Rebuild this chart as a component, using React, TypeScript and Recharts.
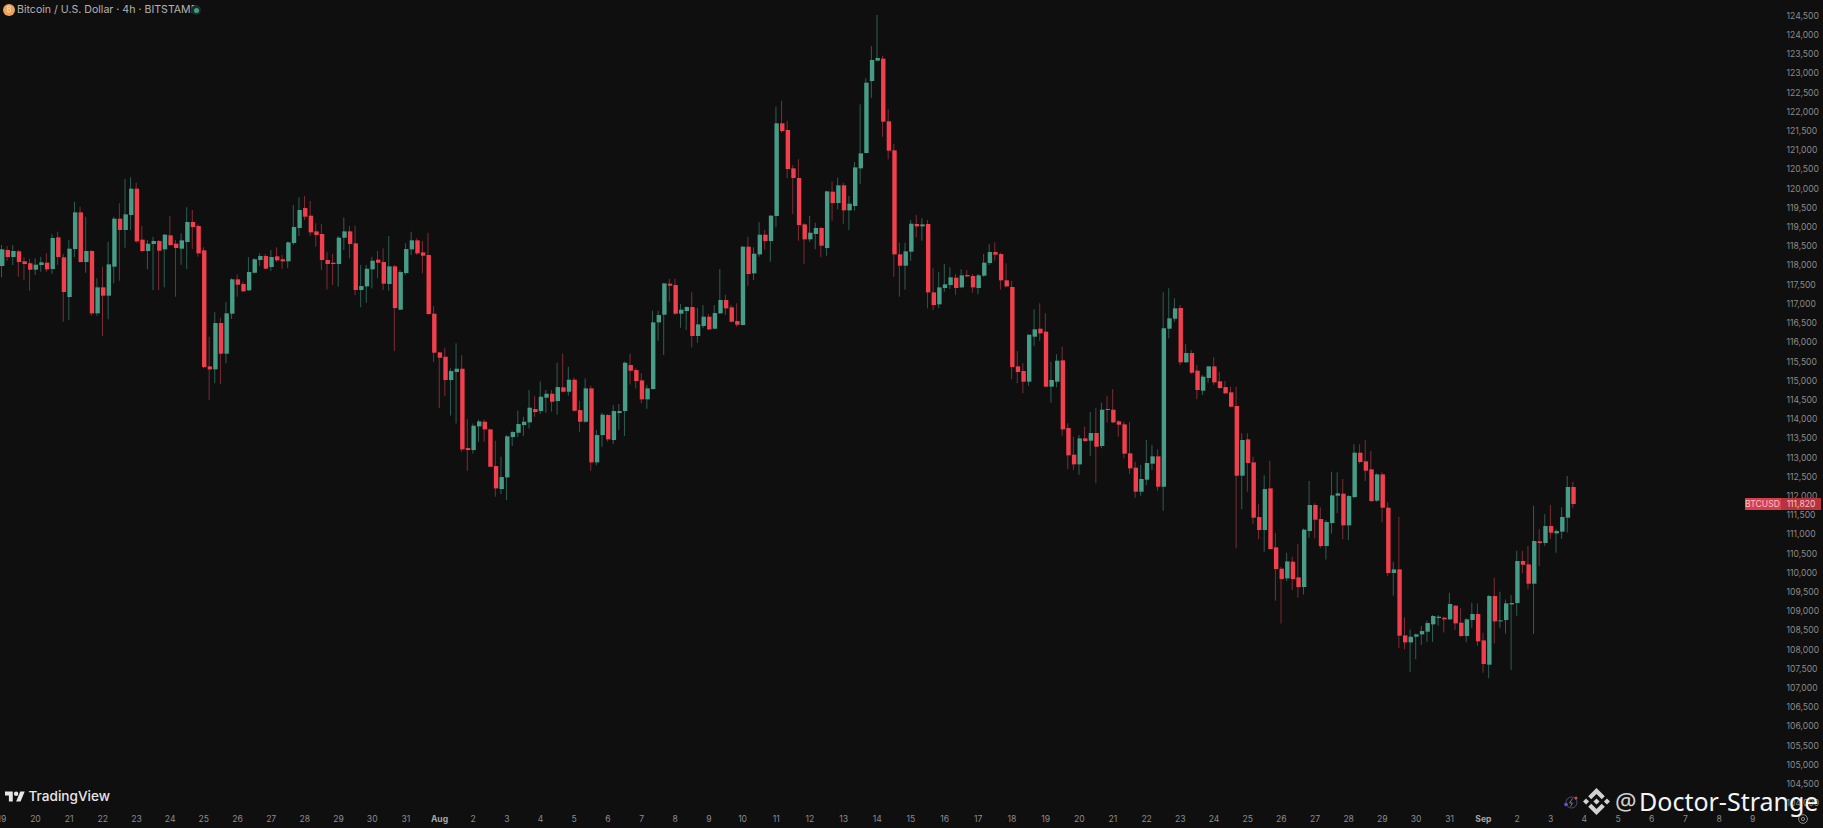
import React from "react";
import { ComposedChart, Bar, XAxis, YAxis, Cell } from "recharts";

// BTC/USD 4h candles
const opens = [
  117984,118401,118218,118366,118106,118053,117889,118010,118071,117906,
  118730,118210,117177,118427,119381,118088,118375,116752,117429,117212,
  117967,119216,118921,119312,119997,118670,118375,118557,118635,118418,
  118782,118565,118435,118609,119129,119025,118392,115372,115294,116500,
  115702,116743,117637,117515,117351,117811,118140,118244,117958,118236,
  118158,118106,118583,118973,119493,119294,118886,118817,118140,118070,
  118036,118721,118886,118574,117359,117454,117897,118149,118088,117515,
  117975,116847,117801,118417,118652,118339,118270,116743,115736,115623,
  115016,115224,115311,113246,113194,113810,113931,113732,112777,112179,
  112482,113532,113645,113845,113914,114261,114209,114556,114660,114469,
  114825,114712,115025,114235,113931,114799,112873,113584,114105,113454,
  114157,114209,115407,115276,115007,114513,114782,116517,116717,117524,
  117489,116743,116812,116916,116162,116422,116665,116352,116752,117099,
  116908,116552,116448,118487,117793,118287,118799,118635,119285,121698,
  121524,120526,120274,119068,118678,118817,118973,118452,119919,119624,
  120084,119433,119546,120526,120925,122800,123329,123381,121750,120995,
  118288,117992,118357,119077,119016,119077,117298,116986,117411,117489,
  117680,117428,117749,117723,117411,117732,118062,118348,118296,117611,
  117438,115372,115251,114973,116145,116353,116275,114843,114973,115529,
  113767,113073,112821,113498,113437,113637,113299,114262,114244,113941,
  113863,113108,112735,112110,112422,112839,113030,112240,116353,116613,
  116891,115477,115719,115260,114739,115069,115372,114982,114834,114696,
  114340,112526,113472,112873,111450,111112,112197,110661,110105,109854,
  110288,109880,109628,111086,111763,111398,110696,111294,112006,112058,
  111234,111971,113125,112900,112691,111876,112561,111693,109993,110088,
  108370,108188,108335,108396,108466,108657,108821,108830,108787,109143,
  108700,108353,108769,108926,108240,107607,109394,108735,108769,109177,
  109212,110305,110218,109715,110817,110774,111216,111025,111069,111433,112232,
];
const closes = [
  118418,118218,118375,118088,118036,117889,118019,118079,117897,118713,
  118218,117307,118435,119381,118088,118375,116752,117429,117212,118027,
  119216,118921,119329,119997,118626,118375,118565,118635,118383,118800,
  118531,118453,118652,119129,118999,118314,115355,115294,116500,115702,
  116752,117637,117498,117325,117828,118158,118244,117915,118218,118132,
  118106,118600,118999,119442,119268,118860,118791,118140,118036,118036,
  118721,118886,118556,117359,117463,117914,118122,118070,117524,117975,
  116890,117827,118426,118652,118313,118253,116734,115728,115597,115016,
  115250,115311,113211,113194,113827,113940,113732,112760,112196,112491,
  113550,113662,113871,113931,114296,114183,114582,114660,114452,114834,
  114712,115025,114218,113931,114799,112873,113584,114114,113472,114209,
  114209,115467,115259,114990,114513,114799,116517,116708,117532,117472,
  116743,116847,116916,116162,116465,116665,116335,116760,117099,116882,
  116535,116456,118487,117775,118305,118799,118634,119294,121698,121498,
  120509,120274,119051,118678,118851,118973,118513,119927,119624,120084,
  119433,119606,120552,120917,122756,123346,123398,121741,120986,118288,
  117992,118366,119086,119016,119068,117298,116969,117428,117507,117689,
  117411,117741,117715,117428,117741,118071,118348,118279,117611,117454,
  115355,115225,114973,116197,116336,116231,114843,115017,115520,113732,
  113056,112821,113498,113429,113637,113281,114244,114236,113915,113854,
  113099,112717,112110,112440,112856,113030,112240,116362,116622,116882,
  115477,115719,115208,114756,115103,115372,114956,114808,114670,114322,
  112526,113455,112856,111433,111112,112179,110617,110097,109837,110296,
  109837,109628,111121,111763,111381,110696,111320,112014,112067,111234,
  111997,113125,112882,112657,111867,112561,111693,109993,110088,108361,
  108188,108335,108396,108483,108691,108874,108856,108787,109186,108683,
  108353,108787,108926,108214,107624,109394,108735,108761,109203,109212,
  110305,110210,109715,110826,110774,111216,111043,111086,111451,112232,111789,
];
const highs = [
  118531,118505,118531,118401,118210,118175,118184,118227,118314,118808,
  118878,118296,118661,119659,119529,119268,118401,117663,117967,118617,
  119268,119615,120249,120292,120153,119025,118661,118748,118661,118817,
  119294,118661,118834,119511,119442,119069,118470,116144,116778,116639,
  117038,117663,117767,117576,118210,118184,118314,118296,118401,118470,
  118270,118617,119572,119771,119806,119676,119094,119068,118357,118296,
  118765,119250,119025,119034,118010,118010,118227,118374,118444,118765,
  118010,117880,118574,118877,118704,118634,118851,116942,115754,115858,
  115320,115971,115667,114001,113888,113992,113992,113758,113437,113020,
  113584,113697,114218,114062,114756,114600,114981,114756,114756,115467,
  115710,115363,115085,114478,115059,114869,113715,114166,114131,114365,
  114391,115493,115710,115320,115190,114886,116821,116821,117550,117654,
  117654,116994,116934,117298,116899,116968,116734,116968,117906,117237,
  116968,117012,118504,118747,118470,119120,118921,119311,122131,122288,
  121767,120613,120760,119094,119285,119112,119008,119945,120188,120283,
  120153,119806,120691,122192,122869,123711,124518,123459,122062,121160,
  118591,118591,119181,119311,119225,119181,117923,117836,118036,117949,
  117776,117897,117880,117776,117776,118296,118548,118600,118331,118053,
  117602,115772,115451,116197,116856,117012,116752,115494,115685,115884,
  113889,113542,113585,113802,114184,114296,114427,114600,114774,113975,
  113932,113923,112891,112804,113455,113325,113212,117299,117403,117143,
  116969,115945,115798,115407,115147,115381,115607,115234,114991,114843,
  114843,113628,113628,113021,111780,112535,112917,111043,110158,110522,
  110418,110748,111155,112388,111806,111702,111372,112631,112613,112440,
  112023,113342,113342,113455,113169,112587,112613,111832,110288,111459,
  108839,108526,108422,108613,108752,108900,108900,108856,109481,109160,
  109073,108813,109221,109203,108440,109420,109871,109507,109307,109420,
  110574,110574,110696,111746,111130,111529,111763,111130,111702,112518,112370,
];
const lows = [
  117689,118123,118010,117706,117620,117342,117750,117837,117837,117776,
  118010,116535,116578,118210,118071,117811,116691,116691,116162,116596,
  117533,117602,118461,118921,118591,118340,117897,117359,117359,117429,
  118505,117186,118019,117906,118427,118227,115320,114496,114930,114912,
  115450,116604,117186,117307,117334,117793,117984,117897,117854,118097,
  117915,117932,118531,118765,119181,118765,118487,117880,117376,117489,
  117446,118400,118183,117229,116908,117029,117402,117663,117359,117342,
  115771,116838,117758,118270,118270,117793,116717,115485,114287,114600,
  114096,113888,113151,112656,113107,113411,113411,112743,111979,112049,
  111892,113298,113524,113558,113758,114062,114131,114166,114192,114114,
  114695,114608,114200,113671,113905,112656,112795,113281,113411,113350,
  113715,113558,114903,114799,114409,114270,114773,116040,115667,117055,
  116708,116378,116318,115866,115988,116361,116318,116344,116734,116708,
  116517,116404,116439,117472,117619,118227,118417,118097,118990,121455,
  120266,119337,118643,118027,118617,118418,118209,118253,119164,119459,
  119077,118921,119424,120118,120917,122366,123311,121350,120760,117706,
  117185,117376,118123,118730,118643,116882,116838,116882,117316,117385,
  117229,117403,117706,117290,117246,117706,118010,118123,117376,117428,
  115034,114930,114670,114869,115902,116032,114826,114427,114826,113568,
  112700,112674,112552,113411,113038,112327,113238,113906,113889,113542,
  112978,112570,111954,112006,112283,112674,112136,111615,116101,116535,
  115399,115468,115173,114513,114626,114947,114886,114791,114652,114305,
  110635,111650,112110,111268,110878,110548,110609,109273,108682,109784,
  109550,109351,109437,110912,110895,110635,110348,111025,111546,110869,
  110852,111937,112847,112388,111850,111850,111312,109915,109403,108032,
  108006,107416,107750,108119,108205,108205,108622,108448,108769,108509,
  108336,108188,108553,108093,107398,107251,108162,108553,108422,107468,
  108882,109984,109576,108405,110175,110696,110878,110522,110887,111051,111676,
];

// one label per day, 6 candles apart
const dayLabels = [
  "19","20","21","22","23","24","25","26","27","28","29","30","31",
  "Aug","2","3","4","5","6","7","8","9","10","11","12","13","14","15","16","17","18",
  "19","20","21","22","23","24","25","26","27","28","29","30","31",
  "Sep","2","3","4","5","6","7","8","9",
];
const priceTicks = [
  104000,104500,105000,105500,106000,106500,107000,107500,108000,108500,109000,
  109500,110000,110500,111000,111500,112000,112500,113000,113500,114000,114500,
  115000,115500,116000,116500,117000,117500,118000,118500,119000,119500,120000,
  120500,121000,121500,122000,122500,123000,123500,124000,124500,
];

const CANDLES_PER_DAY = 6;
const SLOTS = dayLabels.length * CANDLES_PER_DAY; // includes the empty days to the right

const data = Array.from({ length: SLOTS }, (_, i) => ({
  slot: i,
  open: opens[i],
  high: highs[i],
  low: lows[i],
  close: closes[i],
}));
const dayTicks = dayLabels.map((_, i) => i * CANDLES_PER_DAY);

const BG = "#0f0f0f";
const UP = "#479c87";
const DOWN = "#f23f4d";
const UP_WICK = "#2d5f53";
const DOWN_WICK = "#7e2c34";
const AXIS_TEXT = "#8b8b8b";
const FONT = "Inter, 'Noto Sans', sans-serif";

const isUp = (i: number) => closes[i] >= opens[i];

const DayTick = (props: any) => {
  const label = dayLabels[props.payload.value / CANDLES_PER_DAY];
  const strong = label === "Aug" || label === "Sep";
  return (
    <text
      x={props.x}
      y={819}
      dy="0.35em"
      textAnchor="middle"
      fontFamily={FONT}
      fontSize={8.6}
      fontWeight={strong ? 700 : 400}
      fill={strong ? "#a5a5a5" : AXIS_TEXT}
    >
      {label}
    </text>
  );
};

export default function App() {
  return (
    <div
      style={{
        position: "absolute",
        left: 0,
        top: 0,
        width: 1823,
        height: 828,
        overflow: "hidden",
        background: BG,
      }}
    >
      <div style={{ position: "absolute", left: -1.1, top: 0 }}>
        <ComposedChart
          width={1824.1}
          height={828}
          data={data}
          margin={{ top: 0, right: 0, bottom: 0, left: 0 }}
        >
          <XAxis xAxisId="wick" dataKey="slot" type="category" hide />
          <XAxis
            xAxisId="body"
            dataKey="slot"
            type="category"
            ticks={dayTicks}
            interval={0}
            height={20}
            axisLine={false}
            tickLine={false}
            tick={DayTick}
          />
          <YAxis
            orientation="right"
            width={39.5}
            domain={[103877, 124908]}
            allowDataOverflow
            ticks={priceTicks}
            interval={0}
            axisLine={false}
            tickLine={false}
            tickSize={0}
            tickMargin={3}
            tickFormatter={(v: number) => v.toLocaleString("en-US")}
            tick={{ fill: AXIS_TEXT, fontSize: 8.6, fontFamily: FONT }}
          />
          <Bar
            xAxisId="wick"
            dataKey={(d: any) => (d.open == null ? null : [d.low, d.high])}
            barSize={1}
            isAnimationActive={false}
          >
            {data.map((d) => (
              <Cell key={d.slot} fill={isUp(d.slot) ? UP_WICK : DOWN_WICK} />
            ))}
          </Bar>
          <Bar
            xAxisId="body"
            dataKey={(d: any) =>
              d.open == null ? null : [Math.min(d.open, d.close), Math.max(d.open, d.close)]
            }
            barSize={4.4}
            minPointSize={1}
            isAnimationActive={false}
          >
            {data.map((d) => (
              <Cell key={d.slot} fill={isUp(d.slot) ? UP : DOWN} />
            ))}
          </Bar>
        </ComposedChart>
      </div>

      {/* Header */}
      <div
        style={{
          position: "absolute",
          left: 3,
          top: 4,
          width: 12,
          height: 12,
          borderRadius: 6,
          background: "#eda35c",
          color: "#f7e3cf",
          fontFamily: FONT,
          fontSize: 7,
          lineHeight: "12px",
          textAlign: "center",
        }}
      >
        ₿
      </div>
      <div
        style={{
          position: "absolute",
          left: 17,
          top: 3,
          color: "#b4b4b4",
          fontFamily: FONT,
          fontSize: 10.6,
          lineHeight: "14px",
          whiteSpace: "nowrap",
        }}
      >
        Bitcoin / U.S. Dollar · 4h · BITSTAMP
      </div>
      <div
        style={{
          position: "absolute",
          left: 191,
          top: 5,
          width: 10,
          height: 10,
          borderRadius: 5,
          background: "#16302a",
        }}
      />
      <div
        style={{
          position: "absolute",
          left: 194,
          top: 8,
          width: 4.5,
          height: 4.5,
          borderRadius: 3,
          background: "#479c87",
        }}
      />

      {/* Last price tag */}
      <div
        style={{
          position: "absolute",
          left: 1744.5,
          top: 497.5,
          width: 36,
          height: 12,
          background: "#d83f4c",
          color: "#f7c4c8",
          fontFamily: FONT,
          fontSize: 8.6,
          lineHeight: "12px",
          textAlign: "center",
        }}
      >
        BTCUSD
      </div>
      <div
        style={{
          position: "absolute",
          left: 1781,
          top: 497.5,
          width: 40,
          height: 12,
          background: "#b9323e",
          color: "#f3c6c9",
          fontFamily: FONT,
          fontSize: 8.6,
          lineHeight: "12px",
          textAlign: "center",
        }}
      >
        111,820
      </div>

      {/* TradingView mark */}
      <svg
        style={{ position: "absolute", left: 5, top: 791 }}
        width={20}
        height={11}
        viewBox="0 4 36 18"
      >
        <path d="M14 22H7V11H0V4h14v18zM28 22h-8l7.5-18h8L28 22z" fill="#e6e6e6" />
        <circle cx="20" cy="8" r="4" fill="#e6e6e6" />
      </svg>
      <div
        style={{
          position: "absolute",
          left: 28.5,
          top: 787,
          color: "#e6e6e6",
          fontFamily: FONT,
          fontSize: 13.6,
          fontWeight: 500,
          lineHeight: "18px",
        }}
      >
        TradingView
      </div>

      {/* Watermark */}
      <svg
        style={{ position: "absolute", left: 1564, top: 795 }}
        width={15}
        height={15}
        viewBox="0 0 15 15"
      >
        <circle cx="7.5" cy="7.5" r="5.5" fill="none" stroke="#5a4a78" strokeWidth={1} />
        <path d="M8.5 3.5 5.5 8h3l-2 3.5" fill="none" stroke="#7a7a90" strokeWidth={1} />
        <circle cx="12" cy="3" r="1.5" fill="#d8434d" />
        <circle cx="2" cy="9.5" r="1.8" fill="#6b4fe0" />
      </svg>
      <svg
        style={{ position: "absolute", left: 1582.5, top: 788 }}
        width={27}
        height={27}
        viewBox="0 0 32 32"
      >
        <path
          d="M9.79 13.45 16 7.24l6.21 6.21 3.62-3.61L16 0 6.18 9.83zM0 16l3.61-3.61L7.22 16l-3.61 3.61zm9.79 2.55L16 24.76l6.21-6.21 3.61 3.61L16 32l-9.82-9.84zM24.78 16l3.61-3.61L32 16l-3.61 3.61zM19.66 16 16 12.34l-3.66 3.66L16 19.66z"
          fill="#d2d2d2"
        />
      </svg>
      <div
        style={{
          position: "absolute",
          left: 1615,
          top: 783,
          color: "#cfcfcf",
          fontFamily: "'Noto Sans', sans-serif",
          fontSize: 24,
          lineHeight: "36px",
        }}
      >
        @
      </div>
      <div
        style={{
          position: "absolute",
          left: 1639,
          top: 783,
          color: "#f4f4f4",
          fontFamily: "'Noto Sans', sans-serif",
          fontSize: 25,
          lineHeight: "36px",
          whiteSpace: "nowrap",
        }}
      >
        Doctor-Strange
      </div>

      {/* Settings gear */}
      <svg
        style={{ position: "absolute", left: 1797, top: 813 }}
        width={12}
        height={12}
        viewBox="0 0 12 12"
      >
        <circle cx="6" cy="6" r="4.4" fill="none" stroke={AXIS_TEXT} strokeWidth={1} />
        <circle cx="6" cy="6" r="1.6" fill="none" stroke={AXIS_TEXT} strokeWidth={1} />
      </svg>
    </div>
  );
}
